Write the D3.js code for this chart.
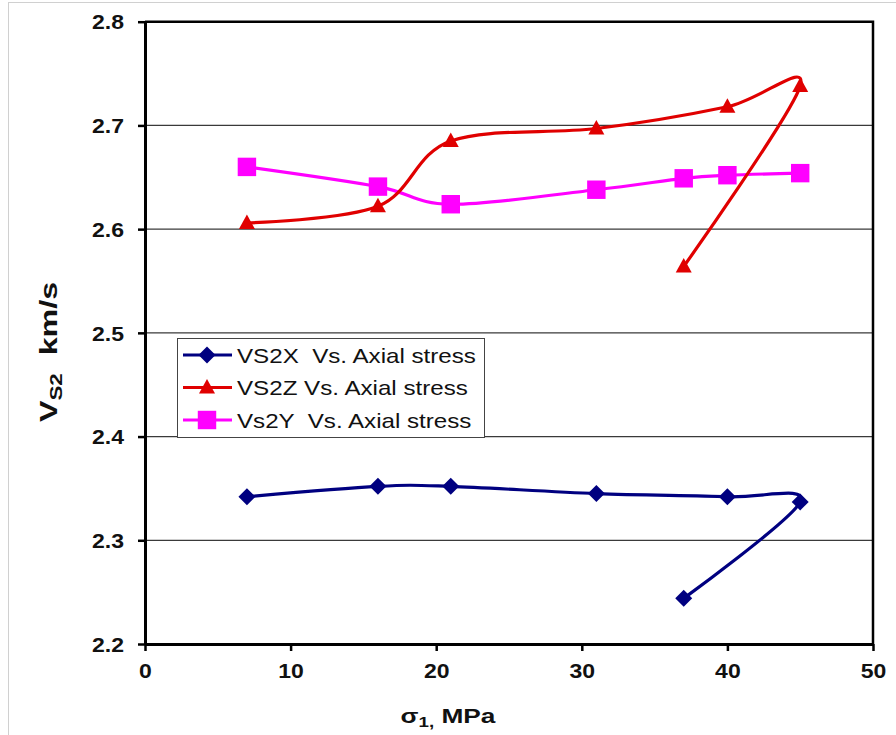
<!DOCTYPE html>
<html>
<head>
<meta charset="utf-8">
<script src="https://cdn.jsdelivr.net/npm/d3@7"></script>
<style>
  body { margin: 0; background: #fff; }
  text { font-family: "Liberation Sans", Arial, sans-serif; }
</style>
</head>
<body>
<div id="chart-area"></div>
<script>
// canvas size
const svgWidth = 896,
      svgHeight = 735;

const margin = { left: 145, right: 23, top: 21.7, bottom: 91 };

var chartWidth = svgWidth - margin.left - margin.right,
    chartHeight = svgHeight - margin.top - margin.bottom;

// data, stress in MPa, velocity in km/s
var stress = [7, 16, 21, 31, 40, 45, 37];
var vs2x = [2.342, 2.352, 2.352, 2.345, 2.342, 2.337, 2.244];
var vs2z = [2.606, 2.622, 2.685, 2.697, 2.718, 2.738, 2.564];
// magenta series goes in plain order
var stressY = [7, 16, 21, 31, 37, 40, 45];
var vs2y = [2.660, 2.641, 2.624, 2.638, 2.649, 2.652, 2.654];

var xTicks = [0, 10, 20, 30, 40, 50];
var yTicks = [2.2, 2.3, 2.4, 2.5, 2.6, 2.7, 2.8];

var seriesNames = ["VS2X  Vs. Axial stress", "VS2Z Vs. Axial stress", "Vs2Y  Vs. Axial stress"];

// the original text is a bit wider than Arial, stretch it
var stretch = 1.15;
function widen(sel, k){
    sel.each(function(){
        var len = this.getComputedTextLength();
        d3.select(this)
            .attr("textLength", len * (k || stretch))
            .attr("lengthAdjust", "spacingAndGlyphs");
    });
}

var svg = d3.select("#chart-area").append("svg")
    .attr("width", svgWidth)
    .attr("height", svgHeight);

// outer frame
svg.append("rect")
    .attr("x", 8.5).attr("y", 2.5)
    .attr("width", 1000).attr("height", 1000)
    .attr("fill", "none")
    .attr("stroke", "#d0d0d0");

var g = svg.append("g")
    .attr("transform", "translate(" + margin.left + "," + margin.top + ")");

// Scales
var xScale = d3.scaleLinear().domain([0, 50]).range([0, chartWidth]);
var yScale = d3.scaleLinear().domain([2.2, 2.8]).range([chartHeight, 0]);

// gridlines
g.selectAll(".grid")
    .data(yTicks.slice(1, -1))
    .enter().append("line")
    .attr("class", "grid")
    .attr("x1", 0).attr("x2", chartWidth)
    .attr("y1", function(d){ return yScale(d); })
    .attr("y2", function(d){ return yScale(d); })
    .attr("stroke", "#3a3a3a")
    .attr("stroke-width", 1.2);

// top and right border
g.append("path")
    .attr("d", "M0,0H" + chartWidth + "V" + chartHeight)
    .attr("fill", "none")
    .attr("stroke", "#000")
    .attr("stroke-width", 2.5);

// Axes
var xAxis = g.append("g")
    .attr("transform", "translate(0," + chartHeight + ")")
    .call(d3.axisBottom(xScale).tickValues(xTicks).tickSizeInner(7).tickSizeOuter(0).tickPadding(13));

var yAxis = g.append("g")
    .call(d3.axisLeft(yScale).tickValues(yTicks).tickFormat(d3.format(".1f")).tickSizeInner(7).tickSizeOuter(0).tickPadding(14));

[xAxis, yAxis].forEach(function(ax){
    ax.select(".domain").attr("stroke-width", 3);
    ax.selectAll(".tick line").attr("stroke-width", 2.5);
    ax.selectAll(".tick text")
        .attr("font-size", "20px")
        .attr("font-weight", "bold")
        .attr("font-family", "Liberation Sans, Arial, sans-serif")
        .attr("fill", "#111")
        .call(widen);
});
yAxis.selectAll(".tick text").attr("dy", "0.36em");

// Axis titles
var xLabel = svg.append("text")
    .attr("x", 448)
    .attr("y", 723)
    .attr("text-anchor", "middle")
    .attr("font-size", "21px")
    .attr("font-weight", "bold")
    .attr("fill", "#111")
    .attr("xml:space", "preserve");
xLabel.append("tspan").text("σ");
xLabel.append("tspan").attr("font-size", "15px").attr("dy", 4).text("1,");
xLabel.append("tspan").attr("dy", -4).text(" MPa");
xLabel.call(widen, 1.25);

var yLabel = svg.append("text")
    .attr("transform", "translate(57,352) rotate(-90)")
    .attr("text-anchor", "middle")
    .attr("font-size", "23px")
    .attr("font-weight", "bold")
    .attr("fill", "#111")
    .attr("xml:space", "preserve");
yLabel.append("tspan").text("V");
yLabel.append("tspan").attr("font-size", "16px").attr("dy", 5).text("S2");
yLabel.append("tspan").attr("dy", -5).text("  km/s");
yLabel.call(widen, 1.4);

// line generator (Excel style smoothing)
var line = d3.line()
    .x(function(d){ return xScale(d[0]); })
    .y(function(d){ return yScale(d[1]); })
    .curve(d3.curveCardinal.tension(0));

var series = [
    { name: seriesNames[2], color: "#ff00ff", marker: "square", pts: d3.zip(stressY, vs2y) },
    { name: seriesNames[0], color: "#000080", marker: "diamond", pts: d3.zip(stress, vs2x) },
    { name: seriesNames[1], color: "#e00000", marker: "triangle", pts: d3.zip(stress, vs2z) }
];

function markerPath(type){
    if (type == "square") return d3.symbol(d3.symbolSquare, 340)();
    if (type == "diamond") return "M0,-8.5L8.5,0L0,8.5L-8.5,0Z";
    return "M0,-8.5L8,6L-8,6Z";
}

series.forEach(function(s){
    g.append("path")
        .attr("d", line(s.pts))
        .attr("fill", "none")
        .attr("stroke", s.color)
        .attr("stroke-width", 3.2);
    g.selectAll(null)
        .data(s.pts)
        .enter().append("path")
        .attr("transform", function(d){ return "translate(" + xScale(d[0]) + "," + yScale(d[1]) + ")"; })
        .attr("d", markerPath(s.marker))
        .attr("fill", s.color);
});

// Legend
var legend = svg.append("g").attr("transform", "translate(177,338)");
legend.append("rect")
    .attr("x", 0.5).attr("y", 0.5)
    .attr("width", 307).attr("height", 99)
    .attr("fill", "#fff")
    .attr("stroke", "#444")
    .attr("stroke-width", 1);

var legendItems = [
    { name: seriesNames[0], color: "#000080", marker: "diamond" },
    { name: seriesNames[1], color: "#e00000", marker: "triangle" },
    { name: seriesNames[2], color: "#ff00ff", marker: "square" }
];

legendItems.forEach(function(d, i){
    var row = legend.append("g").attr("transform", "translate(0," + (17 + i * 32.5) + ")");
    row.append("line")
        .attr("x1", 6).attr("x2", 55)
        .attr("stroke", d.color)
        .attr("stroke-width", 3.2);
    row.append("path")
        .attr("transform", "translate(30,0)")
        .attr("d", markerPath(d.marker))
        .attr("fill", d.color);
    row.append("text")
        .attr("x", 60)
        .attr("dy", "0.36em")
        .attr("font-size", "21px")
        .attr("fill", "#111")
        .attr("xml:space", "preserve")
        .text(d.name)
        .call(widen, 1.15);
});
</script>
</body>
</html>
